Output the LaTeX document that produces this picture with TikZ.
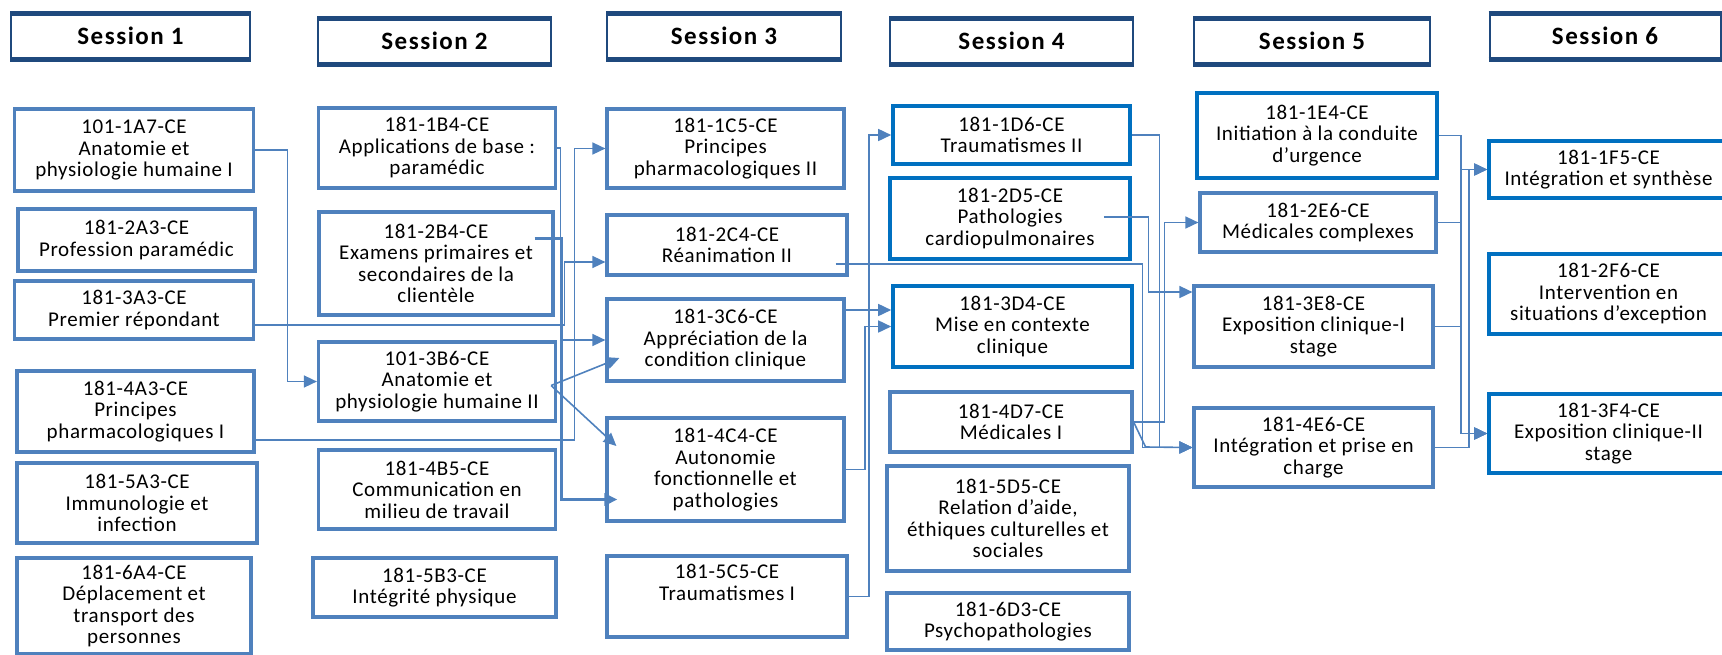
\documentclass[tikz,border=0pt]{standalone}
\usepackage{fontspec}
\setmainfont{Carlito}[LetterSpace=3]
\newfontfamily\sessionfamily{Carlito}[LetterSpace=6]
\usepackage{tikz}
\usetikzlibrary{arrows.meta,calc}
\definecolor{boxblue}{RGB}{79,129,189}
\definecolor{darkbox}{RGB}{0,112,192}
\definecolor{hdrblue}{RGB}{31,73,125}
\newcommand{\coursefont}{\fontsize{21}{21.5}\selectfont}
\newcommand{\sessionfont}{\sessionfamily\bfseries\fontsize{25}{26}\selectfont}
\tikzset{
  course/.style 2 args={draw=boxblue, line width=3.2pt, align=center, inner sep=0pt,
    minimum width=#1, minimum height=#2, font=\coursefont},
  dcourse/.style 2 args={course={#1}{#2}, draw=darkbox, line width=3.6pt},
  session/.style={draw=hdrblue, line width=2pt, minimum width=#1, minimum height=44, font=\sessionfont},
  hdredge/.style={draw=hdrblue, line width=5pt},
  link/.style={draw=boxblue, line width=1.6pt, -{Triangle[length=13pt,width=12pt]}},
  thicklink/.style={link, line width=3pt},
}

\begin{document}
\begin{tikzpicture}[x=1pt, y=-1pt]
    \useasboundingbox (0,0) rectangle (1722,654);

    \node[session=239] (s1) at (130.5,36) {Session 1};
    \node[session=233] (s2) at (434.5,41) {Session 2};
    \node[session=234] (s3) at (724,36) {Session 3};
    \node[session=243] (s4) at (1011.5,41) {Session 4};
    \node[session=236] (s5) at (1312,41) {Session 5};
    \node[session=231] (s6) at (1605,36) {Session 6};
    \foreach \n in {1,...,6}
      \draw[hdredge] (s\n.north west) -- (s\n.north east) (s\n.south west) -- (s\n.south east);

    \node[course={239}{82}] (A1) at (134,150) {101-1A7-CE\\Anatomie et\\physiologie humaine I};
    \node[course={237}{62}] (A2) at (136.5,240) {181-2A3-CE\\Profession paramédic};
    \node[course={239}{58}] (A3) at (134,310) {181-3A3-CE\\Premier répondant};
    \node[course={237}{81}] (A4) at (135.5,411.5) {181-4A3-CE\\Principes\\pharmacologiques I};
    \node[course={240}{80}] (A5) at (137,503) {181-5A3-CE\\Immunologie et\\infection};
    \node[course={234}{96}] (A6) at (134,606) {181-6A4-CE\\Déplacement et\\transport des\\personnes};

    \node[course={237}{80}] (B1) at (437,148) {181-1B4-CE\\Applications de base :\\paramédic};
    \node[course={234}{103}] (B2) at (436,263.5) {181-2B4-CE\\Examens primaires et\\secondaires de la\\clientèle};
    \node[course={237}{79}] (B3) at (437,381.5) {101-3B6-CE\\Anatomie et\\physiologie humaine II};
    \node[course={237}{79}] (B4) at (437,489.5) {181-4B5-CE\\Communication en\\milieu de travail};
    \node[course={243}{59}] (B5) at (434.5,587.5) {181-5B3-CE\\Intégrité physique};

    \node[course={237}{79}] (C1) at (725.5,148.5) {181-1C5-CE\\Principes\\pharmacologiques II};
    \node[course={240}{60}] (C2) at (727,245) {181-2C4-CE\\Réanimation II};
    \node[course={237}{82}] (C3) at (725.5,340) {181-3C6-CE\\Appréciation de la\\condition clinique};
    \node[course={237}{103}] (C4) at (725.5,469.5) {181-4C4-CE\\Autonomie\\fonctionnelle et\\pathologies};
    \node[course={240}{81}] (C5) at (727,596.5) {181-5C5-CE\\Traumatismes I\\ \strut};

    \node[dcourse={237}{58}] (D1) at (1011.5,135) {181-1D6-CE\\Traumatismes II};
    \node[dcourse={240}{81}] (D2) at (1010,218.5) {181-2D5-CE\\Pathologies\\cardiopulmonaires};
    \node[dcourse={239}{81}] (D3) at (1012.5,326.5) {181-3D4-CE\\Mise en contexte\\clinique};
    \node[course={242}{60}] (D4) at (1011,422) {181-4D7-CE\\Médicales I};
    \node[course={242}{105}] (D5) at (1008,518.5) {181-5D5-CE\\Relation d'aide,\\éthiques culturelles et\\sociales};
    \node[course={242}{57}] (D6) at (1008,621.5) {181-6D3-CE\\Psychopathologies};

    \node[dcourse={240}{85}] (E1) at (1317,135.5) {181-1E4-CE\\Initiation à la conduite\\d'urgence};
    \node[course={236}{59}] (E2) at (1318,222.5) {181-2E6-CE\\Médicales complexes};
    \node[course={239}{81}] (E3) at (1313.5,326.5) {181-3E8-CE\\Exposition clinique-I\\stage};
    \node[course={239}{79}] (E4) at (1313.5,447.5) {181-4E6-CE\\Intégration et prise en\\charge};

    \node[dcourse={239}{57}] (F1) at (1608.5,169.5) {181-1F5-CE\\Intégration et synthèse};
    \node[dcourse={239}{80}] (F2) at (1608.5,294) {181-2F6-CE\\Intervention en\\situations d'exception};
    \node[dcourse={239}{79}] (F3) at (1608.5,433.5) {181-3F4-CE\\Exposition clinique-II\\stage};

    \draw[link] (A1.east) -- ++(32.5,0) |- (B3.west);
    \draw[link] ($(A3.east)+(0,15)$) -| ($(C2.west)+(-41,17)$) -- ($(C2.west)+(0,17)$);
    \draw[link] ($(A4.east)+(0,28.5)$) -| ($(C1.west)+(-31,0)$) -- (C1.west);
    \draw[link] (B1.east) -| ($(C3.west)+(-45,0)$) -- (C3.west);
    \draw[thicklink] ($(B2.east)+(-20,-25.5)$) -| ($(C4.west)+(-44,30)$) -- ($(C4.west)+(12,30)$);
    \draw[link] ($(B3.east)+(-6,4)$) -- ($(C3.west)+(14,18)$);
    \draw[link] ($(B3.east)+(-6,4)$) -- ($(C4.west)+(11,-23.5)$);

    \draw[link] ($(C2.east)+(-13,19)$) -| ($(E4.west)+(-50,0)$) -- (E4.west);
    \draw[link] ($(C3.east)+(0,-30)$) -- ($(D3.west)+(0,-16.5)$);
    \draw[link] (C4.east) -| ($(D3.west)+(-26,0)$) -- (D3.west);
    \draw[link] (C5.east) -| ($(D1.west)+(-22,0)$) -- (D1.west);

    \draw[link] (D1.east) -| ($(E4.west)+(-33,0)$) -- (E4.west);
    \draw[link] ($(D2.east)+(-28,-1.5)$) -| ($(E3.west)+(-44,-34.5)$) -- ($(E3.west)+(0,-34.5)$);
    \draw[link] (D4.east) -| ($(E2.west)+(-34,0)$) -- (E2.west);
    \draw[link] (D4.east) -- ++(12,25) -- (E4.west);

    \draw[link] (E1.east) -| ($(F1.west)+(-26,0)$) -- (F1.west);
    \draw[link] (E1.east) -| ($(F3.west)+(-26,0)$) -- (F3.west);
    \draw[link] (E2.east) -| ($(F3.west)+(-26,0)$) -- (F3.west);
    \draw[link] (E3.east) -| ($(F3.west)+(-26,0)$) -- (F3.west);
    \draw[link] (E4.east) -| ($(F1.west)+(-18,0)$) -- (F1.west);
\end{tikzpicture}
\end{document}
